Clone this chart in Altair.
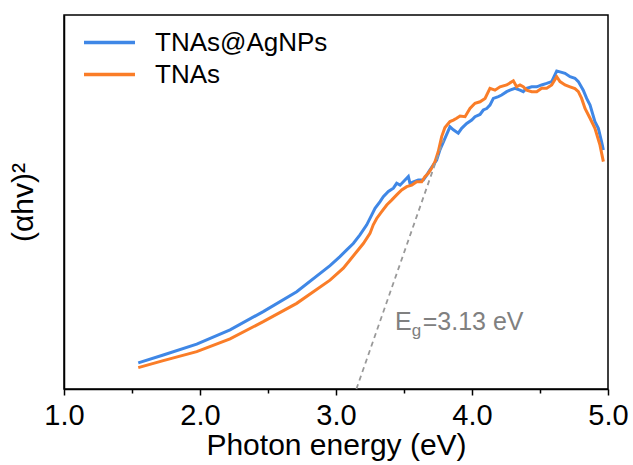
import altair as alt
import pandas as pd

series_names = ["TNAs@AgNPs", "TNAs"]
series_colors = ["#3f87e6", "#fa7d28"]

blue_E = [1.546, 1.730, 1.976, 2.221, 2.465, 2.711, 2.956, 3.029, 3.079, 3.127, 3.176, 3.226,
          3.262, 3.287, 3.324, 3.348, 3.385, 3.422, 3.446, 3.471, 3.495, 3.532, 3.544, 3.569,
          3.605, 3.642, 3.667, 3.691, 3.716, 3.740, 3.765, 3.801, 3.838, 3.863, 3.899, 3.924,
          3.961, 3.998, 4.022, 4.059, 4.083, 4.108, 4.132, 4.157, 4.194, 4.218, 4.255, 4.279,
          4.316, 4.353, 4.377, 4.402, 4.439, 4.476, 4.512, 4.549, 4.586, 4.623, 4.647, 4.684,
          4.721, 4.757, 4.782, 4.818, 4.843, 4.868, 4.904, 4.929, 4.953, 4.966]
blue_V = [7.0, 9.1, 12.0, 15.8, 20.7, 26.0, 33.0, 35.4, 37.2, 38.9, 41.2, 43.9,
          46.5, 48.3, 50.1, 51.4, 52.8, 53.7, 55.0, 54.5, 55.4, 56.8, 55.0, 55.4,
          55.9, 55.9, 57.2, 58.6, 59.9, 61.2, 64.0, 67.0, 70.1, 69.3, 68.4, 69.7,
          71.0, 71.9, 72.8, 73.4, 74.6, 75.0, 75.9, 77.7, 78.2, 78.6, 79.5, 79.9,
          80.4, 79.9, 79.5, 80.4, 80.8, 80.8, 81.3, 81.7, 82.2, 85.0, 84.8, 84.4,
          83.5, 83.1, 82.2, 79.9, 77.7, 75.9, 71.5, 69.7, 66.1, 63.9]

orange_E = [1.546, 1.730, 1.976, 2.221, 2.465, 2.711, 2.956, 3.054, 3.103, 3.152, 3.201, 3.250,
            3.274, 3.299, 3.336, 3.373, 3.409, 3.446, 3.483, 3.520, 3.557, 3.593, 3.630, 3.654,
            3.679, 3.703, 3.728, 3.752, 3.777, 3.801, 3.838, 3.863, 3.887, 3.912, 3.949, 3.985,
            4.022, 4.059, 4.096, 4.132, 4.169, 4.206, 4.255, 4.304, 4.328, 4.353, 4.377, 4.402,
            4.439, 4.476, 4.512, 4.549, 4.586, 4.623, 4.647, 4.684, 4.721, 4.757, 4.782, 4.806,
            4.831, 4.868, 4.904, 4.941, 4.966]
orange_V = [5.7, 7.6, 10.0, 13.4, 18.0, 22.9, 29.1, 32.3, 34.5, 36.7, 38.9, 41.6,
            43.9, 45.6, 47.4, 49.2, 50.5, 51.9, 53.2, 54.1, 54.5, 55.4, 55.4, 56.8,
            57.7, 59.0, 60.8, 63.5, 67.5, 69.9, 71.5, 71.9, 72.4, 73.0, 72.8, 75.0,
            76.4, 76.8, 77.7, 80.4, 79.9, 80.8, 81.3, 82.4, 80.8, 81.3, 80.8, 79.9,
            79.5, 79.5, 80.4, 80.4, 81.3, 83.5, 82.2, 81.3, 80.8, 80.3, 79.5, 77.7,
            75.0, 72.4, 69.7, 65.2, 60.8]

fit_E = [3.15, 3.79]
fit_V = [0.0, 66.6]

ann_text = ["E", "g", "=3.13 eV"]
ann_E = [3.434, 3.557, 3.638]
ann_V = [15.8, 14.2, 15.8]
ann_size = [25, 17, 25]

x_major = [1.0, 2.0, 3.0, 4.0, 5.0]
x_minor = [1.5, 2.5, 3.5, 4.5]

FONT = "Liberation Sans"

curves = pd.concat([
    pd.DataFrame({"E": blue_E, "V": blue_V, "series": series_names[0], "ord": 1}),
    pd.DataFrame({"E": orange_E, "V": orange_V, "series": series_names[1], "ord": 0}),
])
fit = pd.DataFrame({"E": fit_E, "V": fit_V})
ann = pd.DataFrame({"E": ann_E, "V": ann_V, "t": ann_text, "s": ann_size})

xscale = alt.Scale(domain=[1, 5], nice=False, zero=False)
yscale = alt.Scale(domain=[0, 100], nice=False, zero=False)

y_axis = alt.Axis(
    orient="left", labels=False, ticks=False, grid=False, domainColor="black",
    domainWidth=1.5,
    title="(αhv)²", titleFont=FONT, titleFontSize=30, titleFontWeight="normal",
    titleColor="black", titlePadding=26)

lines = alt.Chart(curves).mark_line(strokeWidth=3).encode(
    x=alt.X("E:Q", scale=xscale, axis=alt.Axis(
        orient="bottom", values=x_major, format=".1f", grid=False,
        tickSize=6, tickWidth=1.5, tickColor="black", domainColor="black", domainWidth=1.5,
        labelFontSize=29, labelFont=FONT, labelColor="black", labelPadding=29,
        labelBaseline="alphabetic", labelFlush=False, labelOverlap=False,
        title="Photon energy (eV)", titleFont=FONT, titleFontSize=30,
        titleFontWeight="normal", titleColor="black", titleX=272, titleY=65,
        titleBaseline="alphabetic", titleAlign="center")),
    y=alt.Y("V:Q", scale=yscale, axis=y_axis),
    color=alt.Color("series:N", scale=alt.Scale(domain=series_names, range=series_colors),
                    legend=alt.Legend(orient="none", legendX=31, legendY=13, title=None,
                                      padding=0, symbolType="M-2,0L2,0", symbolSize=650,
                                      symbolStrokeWidth=3.5, labelFontSize=26,
                                      labelFont=FONT, labelColor="black", labelOffset=31,
                                      labelLimit=0, rowPadding=4)),
    order=alt.Order("ord:Q"),
    detail="series:N",
)

dash = alt.Chart(fit).mark_line(color="#999999", strokeWidth=1.8, strokeDash=[5, 4]).encode(
    x=alt.X("E:Q", scale=xscale, axis=alt.Axis(
        orient="bottom", values=x_minor, labels=False, domain=False, grid=False,
        tickSize=4, tickWidth=1.5, tickColor="black", title=None)),
    y=alt.Y("V:Q", scale=yscale, axis=y_axis),
)

text = alt.Chart(ann).mark_text(align="left", baseline="alphabetic", color="#808080",
                                font=FONT).encode(
    x=alt.X("E:Q", scale=xscale, axis=None),
    y=alt.Y("V:Q", scale=yscale, axis=y_axis),
    text="t:N",
    size=alt.Size("s:Q", scale=None, legend=None),
)

chart = alt.layer(lines, dash, text).resolve_axis(x="independent").properties(
    width=544, height=374,
    autosize=alt.AutoSizeParams(type="none"),
    padding={"left": 64, "top": 15, "right": 25, "bottom": 76},
    background="white",
).configure_view(stroke="black", strokeWidth=1.5)

chart.save("out.html", embed_options={"renderer": "svg", "actions": False})
